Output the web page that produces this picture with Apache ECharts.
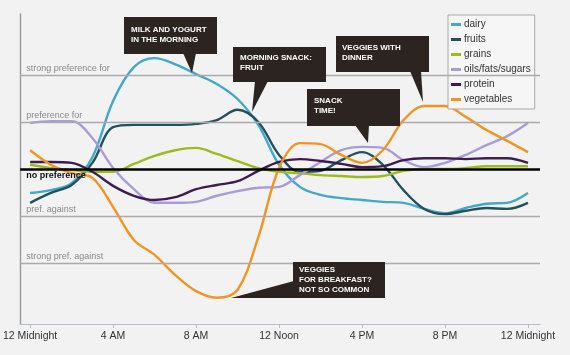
<!DOCTYPE html>
<html>
<head>
<meta charset="utf-8">
<script src="https://cdn.jsdelivr.net/npm/echarts@6/dist/echarts.min.js"></script>
<style>
html,body{margin:0;padding:0;background:#f2f2f2;}
#chart{width:570px;height:355px;}
</style>
</head>
<body>
<div id="chart"></div>
<script>
// ---- data ----
const hours = [0,1,2,3,4,5,6,7,8,9,10,11,12,13,14,15,16,17,18,19,20,21,22,23,24];
const seriesNames = ['dairy','fruits','grains','oils/fats/sugars','protein','vegetables'];
const dairy      = [-0.51,-0.45,-0.30,0.25,1.45,2.17,2.36,2.23,2.02,1.81,1.49,0.94,0.09,-0.38,-0.55,-0.62,-0.66,-0.70,-0.72,-0.85,-0.94,-0.83,-0.74,-0.72,-0.51];
const fruits     = [-0.72,-0.51,-0.34,0.13,0.89,0.94,0.94,0.94,0.96,1.04,1.26,1.00,0.30,-0.06,-0.04,0.19,0.36,0.09,-0.45,-0.85,-0.96,-0.89,-0.83,-0.85,-0.72];
const grains     = [0.09,0.02,-0.02,-0.06,-0.06,0.11,0.28,0.40,0.45,0.32,0.17,0.02,-0.06,-0.09,-0.13,-0.15,-0.17,-0.15,-0.04,0.00,0.00,0.02,0.06,0.06,0.06];
const oils       = [0.98,1.02,1.02,0.66,0.02,-0.43,-0.72,-0.72,-0.70,-0.57,-0.47,-0.40,-0.38,-0.13,0.15,0.40,0.47,0.45,0.19,0.04,0.13,0.30,0.51,0.70,0.98];
const protein    = [0.15,0.15,0.13,-0.06,-0.36,-0.57,-0.66,-0.60,-0.43,-0.34,-0.26,-0.04,0.15,0.21,0.17,0.11,0.04,0.06,0.19,0.23,0.23,0.21,0.23,0.23,0.13];
const vegetables = [0.40,0.09,-0.09,-0.19,-0.81,-1.51,-1.83,-2.26,-2.60,-2.74,-2.57,-1.45,0.02,0.55,0.53,0.30,0.13,0.40,1.04,1.34,1.34,1.11,0.83,0.60,0.36];
const tickHours  = [0,4,8,12,16,20,24];
const tickLabels = ['12 Midnight','4 AM','8 AM','12 Noon','4 PM','8 PM','12 Midnight'];
const levelValues = [2,1,0,-1,-2];
const levelLabels = ['strong preference for','preference for','no preference','pref. against','strong pref. against'];

const colors = ['#41a8c9','#24505c','#9cbb1f','#a99bd8','#3d1c4f','#f0951f'];
const allData = [dairy,fruits,grains,oils,protein,vegetables];

const chart = echarts.init(document.getElementById('chart'));
const FONT = 'Liberation Sans, Arial, sans-serif';

const lineSeries = seriesNames.map((n,i)=>({
  name:n, type:'line', smooth:0.35, symbol:'none', z:3,
  lineStyle:{color:colors[i], width:2.4},
  itemStyle:{color:colors[i]},
  data: hours.map((h,j)=>[h, allData[i][j]])
}));

const levelSeries = {
  name:'levels', type:'line', data:[], z:2, silent:true,
  markLine:{
    silent:true, symbol:['none','none'], animation:false,
    data: levelValues.map((v,i)=>({
      yAxis:v,
      lineStyle:{color: v===0?'#000':'#aaaaaa', width: v===0?2.6:1.4, type:'solid'},
      label:{
        show:true, formatter: levelLabels[i],
        position: v===0?'insideStartBottom':'insideStartTop',
        distance:[6,2],
        color: v===0?'#111':'#8a8a8a',
        fontWeight: v===0?'bold':'normal',
        fontSize:9, fontFamily:FONT
      }
    }))
  }
};

function callout(x,y,w,h,tail,text,tx,ty){
  return [
    {type:'rect', shape:{x:x,y:y,width:w,height:h}, style:{fill:'#2b2420'}, z:10},
    {type:'polygon', shape:{points:tail}, style:{fill:'#2b2420'}, z:10},
    {type:'text', x:tx, y:ty, z:11, style:{text:text, fill:'#ffffff', font:'bold 8px '+FONT, lineHeight:10, verticalAlign:'top'}}
  ];
}

const graphics = [].concat(
  callout(124,17,93,37,[[183,53],[196,53],[192,73]],'MILK AND YOGURT\nIN THE MORNING',131,25),
  callout(233,47,93,35,[[255,81],[268,81],[252,112]],'MORNING SNACK:\nFRUIT',240,53),
  callout(336,36,93,36,[[410,71],[421,71],[423,102]],'VEGGIES WITH\nDINNER',342,43),
  callout(307,89,93,37,[[355,125],[369,125],[368,143]],'SNACK\nTIME!',314,96),
  callout(293,262,92,36,[[231,298],[294,281],[294,298]],'VEGGIES\nFOR BREAKFAST?\nNOT SO COMMON',299,265)
);

chart.setOption({
  backgroundColor:'#f2f2f2',
  animation:false,
  grid:{left:17,right:30,top:14,bottom:31},
  xAxis:{
    type:'value', min:-0.48, max:24.58,
    splitLine:{show:false},
    axisLine:{show:true, onZero:false, lineStyle:{color:'#b6bdcb', width:1.2}},
    axisTick:{show:true, customValues:tickHours, length:4, lineStyle:{color:'#b6bdcb'}},
    axisLabel:{show:true, customValues:tickHours, margin:7, color:'#333', fontSize:10.5, fontFamily:FONT,
      formatter:(v)=>tickLabels[tickHours.indexOf(v)]}
  },
  yAxis:{
    type:'value', min:-3.3, max:3.3,
    splitLine:{show:false},
    axisLine:{show:true, onZero:false, lineStyle:{color:'#9a9a9a', width:1.4}},
    axisTick:{show:false}, axisLabel:{show:false}
  },
  legend:{
    data:seriesNames, orient:'vertical', left:448, top:15,
    backgroundColor:'#f6f6f6', borderColor:'#a8a8a8', borderWidth:1,
    padding:[3,4,3,3], itemGap:2, itemWidth:10, itemHeight:3,
    icon:'rect',
    textStyle:{color:'#333', fontSize:10, fontFamily:FONT, lineHeight:13, padding:[0,0,0,-2]}
  },
  graphic:graphics,
  series:[levelSeries].concat(lineSeries)
});
</script>
</body>
</html>
